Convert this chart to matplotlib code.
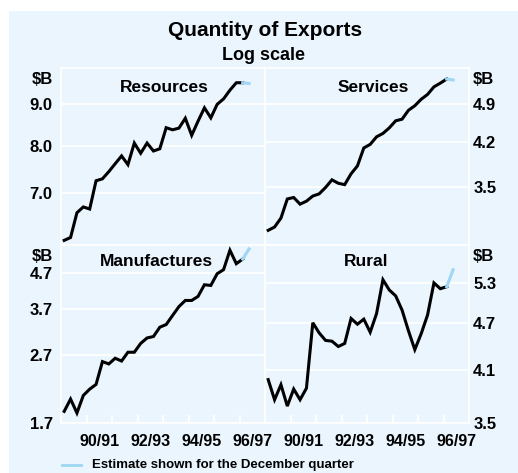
import numpy as np
import matplotlib
matplotlib.use("Agg")
import matplotlib.pyplot as plt
from matplotlib.lines import Line2D
from matplotlib.patches import Rectangle
from matplotlib.ticker import NullLocator, FixedLocator, NullFormatter

plt.rcParams['font.family'] = ['Liberation Sans', 'DejaVu Sans']
plt.rcParams['font.weight'] = 'bold'

# quarterly, Sep-89 .. Sep-96 (actual) plus Dec-96 estimate
quarters = 1989.625 + 0.25 * np.arange(30)

resources = [6.11, 6.16, 6.61, 6.72, 6.68, 7.24, 7.28, 7.43, 7.60, 7.77,
             7.58, 8.06, 7.83, 8.06, 7.88, 7.93, 8.42, 8.37, 8.41, 8.65,
             8.24, 8.58, 8.91, 8.66, 9.00, 9.14, 9.37, 9.57, 9.57, 9.55]
services = [2.93, 2.97, 3.08, 3.33, 3.35, 3.26, 3.30, 3.37, 3.40, 3.49,
            3.60, 3.55, 3.53, 3.69, 3.81, 4.10, 4.16, 4.29, 4.35, 4.45,
            4.58, 4.61, 4.78, 4.87, 5.00, 5.10, 5.26, 5.34, 5.43, 5.41]
manufactures = [1.84, 2.00, 1.82, 2.05, 2.14, 2.21, 2.58, 2.54, 2.64, 2.59,
                2.75, 2.75, 2.92, 3.03, 3.06, 3.26, 3.32, 3.53, 3.75, 3.91,
                3.91, 4.02, 4.35, 4.33, 4.69, 4.82, 5.50, 5.02, 5.18, 5.55]
rural = [3.98, 3.75, 3.92, 3.68, 3.87, 3.75, 3.88, 4.71, 4.57, 4.47,
         4.46, 4.39, 4.43, 4.77, 4.69, 4.76, 4.58, 4.84, 5.35, 5.19,
         5.10, 4.89, 4.60, 4.35, 4.56, 4.82, 5.30, 5.21, 5.24, 5.51]

res_ticks = [7.0, 8.0, 9.0]
ser_ticks = [3.5, 4.2, 4.9]
man_ticks = [1.7, 2.7, 3.7, 4.7]
rur_ticks = [3.5, 4.1, 4.7, 5.3]

year_ticks = [1990.5, 1991.5, 1992.5, 1993.5, 1994.5, 1995.5, 1996.5]
year_label_pos = [1991.0, 1993.0, 1995.0, 1997.0]
year_labels = ['90/91', '92/93', '94/95', '96/97']

bg = '#EAF5FE'
est_col = '#9ED6F3'
W, H = 518, 473

fig = plt.figure(figsize=(W / 100, H / 100), dpi=100)
fig.patch.set_facecolor('white')
fig.patches.append(Rectangle((9 / W, 0), 509 / W, (H - 11) / H,
                             transform=fig.transFigure, facecolor=bg,
                             edgecolor='none', zorder=-10))


def px(x, y):
    return x / W, 1 - y / H


def panel(rect, data, ticks, ylim, side, bottom):
    l, t, r, b = rect
    ax = fig.add_axes([l / W, 1 - b / H, (r - l) / W, (b - t) / H])
    ax.set_facecolor(bg)
    ax.plot(quarters[:-1], data[:-1], color='black', lw=2.2,
            solid_joinstyle='miter', zorder=3)
    ax.plot(quarters[-2:], data[-2:], color=est_col, lw=2.2, zorder=3)
    ax.set_yscale('log')
    ax.set_ylim(*ylim)
    ax.set_xlim(1989.5, 1997.5)
    ax.yaxis.set_major_locator(FixedLocator(ticks))
    ax.yaxis.set_minor_locator(NullLocator())
    ax.yaxis.set_minor_formatter(NullFormatter())
    ax.set_yticklabels(['%.1f' % v for v in ticks])
    ax.grid(axis='y', color='white', lw=1.3, zorder=1)
    for s in ax.spines.values():
        s.set_color('white')
        s.set_linewidth(1.3)
    if side == 'left':
        ax.tick_params(axis='y', length=0, labelsize=12, pad=6)
        ax.annotate(r'\$B', xy=(0, 1), xycoords='axes fraction',
                    xytext=(-6, -8), textcoords='offset points',
                    ha='right', va='center', fontsize=12)
    else:
        ax.yaxis.tick_right()
        ax.tick_params(axis='y', length=0, labelsize=12, pad=3)
        ax.annotate(r'\$B', xy=(1, 1), xycoords='axes fraction',
                    xytext=(3, -8), textcoords='offset points',
                    ha='left', va='center', fontsize=12)
    if bottom:
        ax.xaxis.set_major_locator(FixedLocator(year_ticks))
        ax.xaxis.set_major_formatter(NullFormatter())
        ax.xaxis.set_minor_locator(FixedLocator(year_label_pos))
        ax.set_xticklabels(year_labels, minor=True)
        ax.tick_params(axis='x', which='major', direction='in', length=6,
                       width=1.3, color='white')
        ax.tick_params(axis='x', which='minor', length=0, labelsize=11.5,
                       pad=8)
    else:
        ax.set_xticks([])
    return ax


panel((61, 68, 265, 245), resources, res_ticks, (6.03, 9.98), 'left', False)
panel((265, 68, 469, 245), services, ser_ticks, (2.76, 5.68), 'right', False)
panel((61, 245, 265, 423), manufactures, man_ticks, (1.7, 5.70), 'left', True)
panel((265, 245, 469, 423), rural, rur_ticks, (3.5, 5.93), 'right', True)

fig.text(*px(265, 30), 'Quantity of Exports', ha='center', va='center',
         fontsize=15)
fig.text(*px(264, 56), 'Log scale', ha='center', va='center', fontsize=13)
fig.text(*px(164, 87), 'Resources', ha='center', va='center', fontsize=12.5)
fig.text(*px(373, 87), 'Services', ha='center', va='center', fontsize=12.5)
fig.text(*px(156, 261), 'Manufactures', ha='center', va='center',
         fontsize=12.5)
fig.text(*px(366, 261), 'Rural', ha='center', va='center', fontsize=12.5)

fig.add_artist(Line2D([62 / W, 81 / W], [1 - 465 / H, 1 - 465 / H],
                      transform=fig.transFigure, color=est_col, lw=2))
fig.text(*px(92, 465), 'Estimate shown for the December quarter',
         ha='left', va='center', fontsize=9.5)

fig.savefig('out.png', dpi=100, facecolor=fig.get_facecolor())
